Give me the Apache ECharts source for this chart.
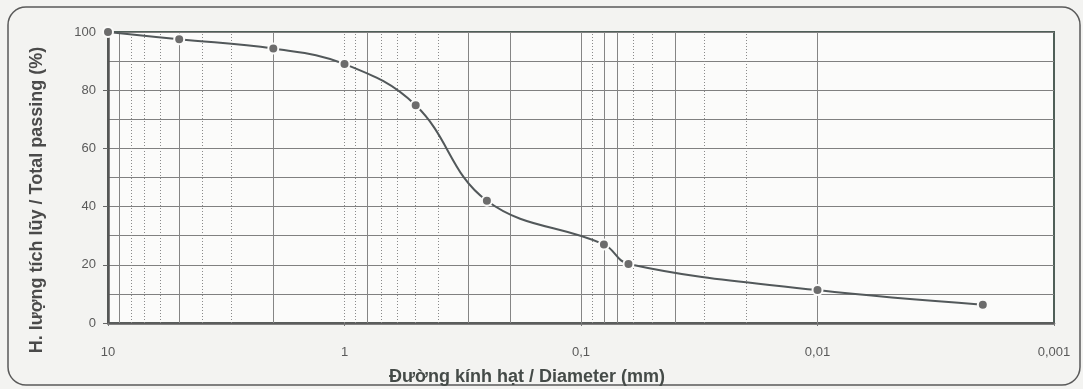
<!DOCTYPE html>
<html>
<head>
<meta charset="utf-8">
<script src="https://cdn.jsdelivr.net/npm/echarts@6/dist/echarts.min.js"></script>
<style>
  html, body { margin: 0; padding: 0; background: #f3f3f1; }
  #chart { width: 1083px; height: 389px; }
</style>
</head>
<body>
<div id="chart"></div>
<script>
// ---- data ----
const diameters = [10, 5, 2, 1, 0.5, 0.25, 0.08, 0.063, 0.01, 0.002];   // mm
const passing   = [100, 97.5, 94.3, 89, 74.8, 42, 27, 20.3, 11.3, 6.3]; // %
const xTickValues = [10, 1, 0.1, 0.01, 0.001];
const xTickLabels = ['10', '1', '0,1', '0,01', '0,001'];
const yTickValues = [0, 20, 40, 60, 80, 100];
const xAxisTitle = 'Đường kính hạt / Diameter (mm)';
const yAxisTitle = 'H. lượng tích lũy / Total passing (%)';

// vertical log grid lines (m x 10^k); solid ones as seen in the print
const solidGrid = [9, 5, 2, 0.8, 0.3, 0.2, 0.1, 0.08, 0.07, 0.04, 0.01, 0.009, 0.007, 0.006, 0.005, 0.004, 0.002];
const gridVals = [];
[1, 0.1, 0.01, 0.001].forEach(function (d) {
  for (let m = 1; m <= 9; m++) {
    const v = +(m * d).toPrecision(3);
    if (v > 0.001 && v < 10) gridVals.push(v);
  }
});
function isSolid(v) {
  return solidGrid.some(function (s) { return Math.abs(Math.log10(s) - Math.log10(v)) < 1e-6; });
}
function xLabel(v) {
  for (let i = 0; i < xTickValues.length; i++) {
    if (Math.abs(Math.log10(xTickValues[i]) - Math.log10(v)) < 1e-6) return xTickLabels[i];
  }
  return '';
}

const chart = echarts.init(document.getElementById('chart'), null, { renderer: 'canvas' });
const FONT = 'Liberation Sans, Arial, sans-serif';

chart.setOption({
  backgroundColor: '#f3f3f1',
  animation: false,
  grid: {
    left: 108, right: 29, top: 32, bottom: 66,
    show: true,
    backgroundColor: '#fbfbfa',
    borderColor: '#4f5f58',
    borderWidth: 2
  },
  xAxis: {
    type: 'log',
    logBase: 10,
    min: 0.001,
    max: 10,
    inverse: true,
    axisLine: { show: true, onZero: false, lineStyle: { color: '#5c5c5c', width: 2.5 } },
    axisTick: { show: true, length: 3, lineStyle: { color: '#777' } },
    axisLabel: {
      color: '#5a5a5a', fontSize: 13, fontFamily: FONT, margin: 23,
      formatter: function (v) { return xLabel(v); }
    },
    splitLine: { show: false },
    minorTick: { show: false },
    minorSplitLine: { show: false }
  },
  yAxis: {
    type: 'value',
    min: 0,
    max: 100,
    interval: 20,
    axisLine: { show: true, lineStyle: { color: '#555', width: 2.5 } },
    axisTick: { show: true, length: 5, lineStyle: { color: '#666' } },
    axisLabel: {
      color: '#5a5a5a', fontSize: 13, fontFamily: FONT, margin: 12,
      formatter: function (v) { return yTickValues.indexOf(v) >= 0 ? String(v) : ''; }
    },
    splitLine: { show: true, lineStyle: { color: '#808080', width: 1 } },
    minorTick: { show: false, splitNumber: 2 },
    minorSplitLine: { show: true, lineStyle: { color: '#808080', width: 1 } }
  },
  graphic: [
    {
      type: 'rect', silent: true, z: -1,
      shape: { x: 8, y: 7, width: 1072, height: 378, r: 18 },
      style: { fill: 'none', stroke: '#5a5a5a', lineWidth: 1.5 }
    },
    {
      type: 'text', silent: true,
      x: 527, y: 377,
      style: {
        text: xAxisTitle, font: 'bold 18px ' + FONT, fill: '#454b48',
        align: 'center', verticalAlign: 'middle'
      }
    },
    {
      type: 'text', silent: true,
      x: 37, y: 200, rotation: Math.PI / 2,
      style: {
        text: yAxisTitle, font: 'bold 18px ' + FONT, fill: '#4a4a4a',
        align: 'center', verticalAlign: 'middle'
      }
    }
  ],
  series: [
    {
      type: 'line',
      z: 1,
      silent: true,
      data: diameters.map(function (d, i) { return [d, passing[i]]; }),
      symbol: 'none',
      lineStyle: { opacity: 0 },
      markLine: {
        silent: true,
        symbol: 'none',
        label: { show: false },
        animation: false,
        data: gridVals.map(function (v) {
          const solid = isSolid(v);
          return {
            xAxis: v,
            lineStyle: {
              color: solid ? '#858585' : '#8a8a8a',
              width: 1,
              type: solid ? 'solid' : [1, 2]
            }
          };
        })
      }
    },
    {
      type: 'line',
      z: 5,
      data: diameters.map(function (d, i) { return [d, passing[i]]; }),
      smooth: 0.4,
      symbol: 'circle',
      symbolSize: 10,
      showAllSymbol: true,
      lineStyle: { color: '#52585a', width: 2 },
      itemStyle: { color: '#6c6c6c', borderColor: '#fbfbfa', borderWidth: 2 }
    }
  ]
});
</script>
</body>
</html>
